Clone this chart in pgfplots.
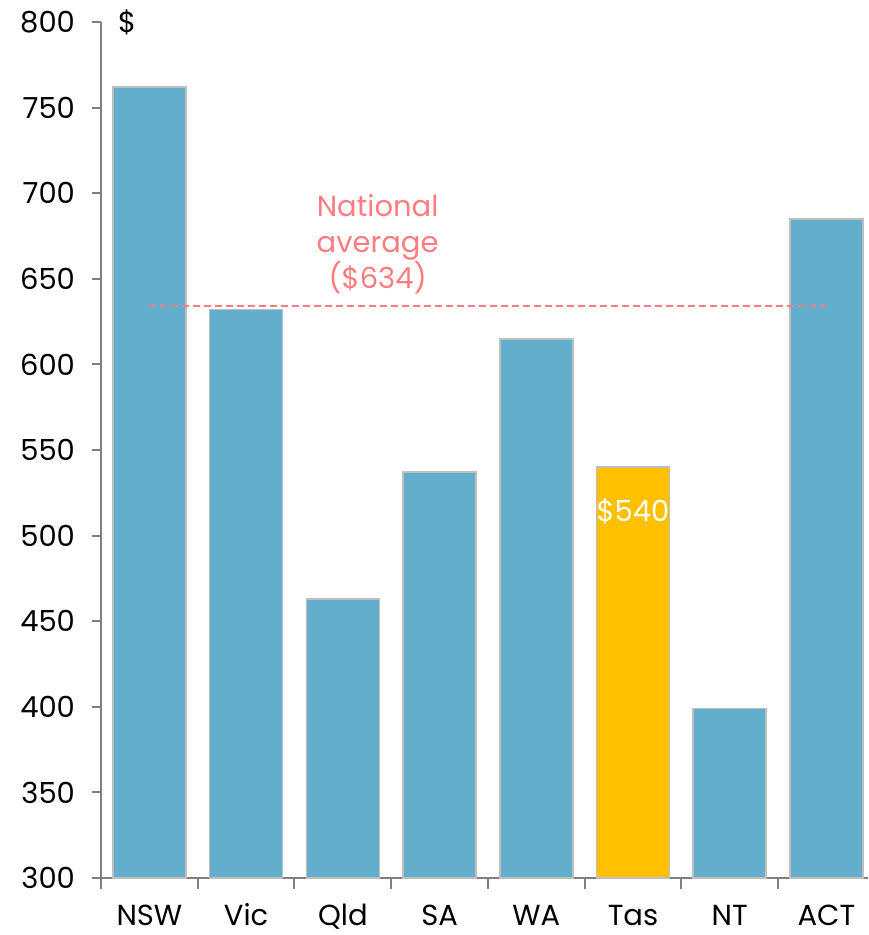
\documentclass[border=0pt]{standalone}
\usepackage{pgfplots}
\pgfplotsset{compat=1.18}
\usetikzlibrary{calc}
\usepackage{fontspec}
\setmainfont{Poppins}
\definecolor{barblue}{HTML}{62AFCD}
\definecolor{baredge}{HTML}{BFBFBF}
\definecolor{tasgold}{HTML}{FFC000}
\definecolor{avgred}{HTML}{FF7C80}
\definecolor{axgray}{HTML}{808080}
\begin{document}
\begin{tikzpicture}[font=\fontsize{14.5pt}{18pt}\selectfont]
\begin{axis}[
  scale only axis,
  width=383.5pt, height=428pt,
  xmin=-0.5, xmax=7.43,
  ymin=300, ymax=800,
  axis lines=left,
  axis line style={axgray, line width=1pt, -},
  ytick={300,350,...,800},
  xtick={0,...,7},
  xticklabels={NSW,Vic,Qld,SA,WA,Tas,NT,ACT},
  major x tick style={draw=none},
  minor xtick={-0.5,0.5,...,6.5},
  tick align=outside,
  major tick length=4.5pt,
  minor tick length=5.5pt,
  tick style={axgray, line width=1pt},
  minor tick style={axgray, line width=1pt},
  yticklabel style={xshift=-5pt},
  xticklabel style={yshift=-5pt, text height=10.5pt, text depth=0pt},
  /pgf/number format/assume math mode=true,
  ybar, bar width=36.5pt, bar shift=0pt,
  clip=false,
]
\addplot[fill=barblue, draw=baredge, line width=0.8pt] coordinates {
 (0,762) (1,632) (2,463) (3,537) (4,615) (6,399) (7,685)};
\addplot[fill=tasgold, draw=baredge, line width=0.8pt] coordinates {(5,540)};
\addplot[sharp plot, avgred, line width=1pt, dash pattern=on 3.5pt off 2pt] coordinates {(0,634) (7,634)};
\node[avgred, align=center] at (axis cs:2.36,670) {National\\average\\(\$634)};
\node[white] at (axis cs:5,514) {\$540};
\node at (axis cs:-0.23,800) {\$};
\coordinate (ll) at (rel axis cs:0,0);
\coordinate (ur) at (rel axis cs:1,1);
\end{axis}
\pgfresetboundingbox
\path[use as bounding box] ($(ll)+(-50.5pt,-28.5pt)$) rectangle ($(ur)+(0pt,11pt)$);
\end{tikzpicture}
\end{document}
